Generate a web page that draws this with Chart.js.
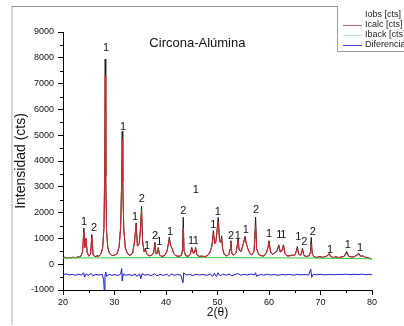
<!DOCTYPE html>
<html>
<head>
<meta charset="utf-8">
<script src="https://cdn.jsdelivr.net/npm/chart.js@4.4.1/dist/chart.umd.min.js"></script>
<style>
  html, body { margin: 0; padding: 0; background: #fff; }
  #wrap { position: relative; width: 404px; height: 326px; overflow: hidden; }
  #frame { position: absolute; left: 11px; top: 6px; width: 400px; height: 318px;
           border-left: 2px solid #d4d4d4; border-top: 1px solid #8c8c8c; }
  #c { position: absolute; left: 0; top: 0; }
</style>
</head>
<body>
<div id="wrap">
  <div id="frame"></div>
  <canvas id="c" width="404" height="326"></canvas>
</div>
<script>
// ---- data ----
const chartTitle = 'Circona-Alúmina';
const xTitle = '2(θ)';
const yTitle = 'Intensidad (cts)';
const seriesNames = ['Iobs [cts]', 'Icalc [cts]', 'Iback [cts]', 'Diferencia'];

const obsX = [20.0,20.4,20.8,21.2,21.6,22.0,22.4,22.8,23.2,23.5,23.8,24.05,24.25,24.45,24.7,25.0,25.35,25.6,25.85,26.2,26.6,27.0,27.4,27.7,27.95,28.1,28.2,28.3,28.45,28.7,29.0,29.5,30.0,30.5,30.9,31.2,31.4,31.5,31.6,31.8,32.1,32.5,33.0,33.5,33.9,34.2,34.45,34.8,35.05,35.25,35.45,35.75,36.0,36.3,36.8,37.3,37.6,37.85,38.05,38.3,38.5,38.75,39.2,39.7,40.2,40.5,40.65,40.85,41.2,41.5,41.9,42.5,43.0,43.2,43.35,43.5,43.8,44.3,44.7,45.0,45.3,45.55,45.75,46.0,46.5,47.0,47.5,48.0,48.5,48.9,49.2,49.45,49.7,49.95,50.15,50.4,50.6,50.8,51.0,51.3,51.8,52.2,52.45,52.6,52.8,53.2,53.6,54.0,54.2,54.6,55.0,55.35,55.6,55.9,56.3,56.7,57.1,57.4,57.6,58.0,58.5,59.0,59.5,59.8,60.0,60.3,60.7,61.1,61.5,61.9,62.2,62.5,62.8,63.1,63.5,64.0,64.5,64.9,65.2,65.5,65.8,66.2,66.5,66.8,67.3,67.8,68.05,68.2,68.4,68.8,69.3,69.8,70.3,70.8,71.3,71.7,72.0,72.5,73.0,73.5,74.0,74.6,75.1,75.5,76.0,76.5,76.9,77.4,77.8,78.2,78.6,79.0,79.5,80.0];
const obsY = [250,275,235,268,240,280,245,285,260,320,480,1400,650,1000,450,310,380,1150,360,290,330,310,420,640,1400,3600,7950,3400,1300,640,440,330,350,400,680,1450,3400,5150,3200,1350,640,420,340,420,900,1600,700,800,1400,2250,900,480,600,380,320,360,450,850,400,420,650,350,300,330,500,850,1050,750,620,420,330,300,340,550,1820,520,330,300,380,650,430,450,650,360,300,320,290,330,450,700,1300,800,900,1400,1820,900,850,1100,600,380,320,380,600,910,400,350,450,980,550,500,800,1080,800,600,420,360,500,1820,600,380,330,310,450,650,910,480,380,450,500,750,480,520,750,420,320,330,360,330,440,680,380,360,610,330,300,340,480,1040,400,280,260,300,270,280,330,420,300,260,290,260,280,310,490,300,290,280,340,420,310,330,280,250,230,200];

const calcX = [20.0,21.0,22.0,22.8,23.5,23.8,24.05,24.25,24.45,24.7,25.0,25.35,25.6,25.85,26.3,27.0,27.4,27.7,27.95,28.1,28.2,28.3,28.45,28.7,29.0,29.5,30.0,30.5,30.9,31.2,31.4,31.5,31.6,31.8,32.1,32.5,33.0,33.5,33.9,34.2,34.45,34.8,35.05,35.25,35.45,35.75,36.0,36.3,36.8,37.3,37.6,37.85,38.05,38.3,38.5,38.75,39.2,39.7,40.2,40.5,40.65,40.85,41.2,41.5,41.9,42.5,43.0,43.2,43.35,43.5,43.8,44.3,44.7,45.0,45.3,45.55,45.75,46.0,46.5,47.0,47.5,48.0,48.5,48.9,49.2,49.45,49.7,49.95,50.15,50.4,50.6,50.8,51.0,51.3,51.8,52.2,52.45,52.6,52.8,53.2,53.6,54.0,54.2,54.6,55.0,55.35,55.6,55.9,56.3,56.7,57.1,57.4,57.6,58.0,58.5,59.0,59.5,59.8,60.0,60.3,60.7,61.1,61.5,61.9,62.2,62.5,62.8,63.1,63.5,64.0,64.5,64.9,65.2,65.5,65.8,66.2,66.5,66.8,67.3,67.8,68.05,68.2,68.4,68.8,69.3,69.8,70.3,70.8,71.3,71.7,72.0,72.5,73.0,73.5,74.0,74.6,75.1,75.5,76.0,76.5,76.9,77.4,77.8,78.2,78.6,79.0,79.5,80.0];
const calcY = [255,255,258,265,330,470,1250,640,1000,440,320,370,1050,360,300,310,410,640,1400,3500,7300,3400,1300,640,440,340,350,400,680,1450,3300,4850,3200,1350,640,410,350,420,880,1500,700,780,1380,2100,900,480,550,380,330,350,440,780,400,410,600,350,310,330,500,820,980,740,600,410,330,310,340,540,1400,520,340,310,370,600,420,440,620,360,310,305,300,320,440,680,1200,780,880,1350,1650,880,830,1000,590,380,320,370,580,820,400,350,440,900,540,490,780,1000,780,590,410,360,490,1500,590,370,330,320,440,630,850,470,380,440,490,700,470,510,700,410,320,320,340,330,430,620,380,350,550,330,300,320,450,790,390,280,265,270,265,270,320,380,290,260,265,260,270,300,430,290,280,280,330,380,300,310,270,245,230,215];

const backX = [20, 30, 40, 50, 60, 70, 80];
const backY = [240, 250, 255, 255, 250, 235, 210];

const diffX = [20.0,20.6,21.2,21.8,22.4,23.0,23.6,24.0,24.2,24.5,24.9,25.5,25.8,26.4,27.0,27.6,27.9,28.0,28.15,28.3,28.5,28.9,29.5,30.1,30.7,31.2,31.4,31.5,31.7,32.2,32.8,33.4,34.0,34.3,34.9,35.1,35.4,35.9,36.5,37.1,37.8,38.2,38.8,39.5,40.2,40.6,41.0,41.6,42.3,42.9,43.3,43.45,43.9,44.6,45.2,45.8,46.5,47.2,47.9,48.6,49.1,49.4,49.8,50.1,50.5,51.0,51.7,52.4,52.7,53.4,54.0,54.5,55.2,55.8,56.5,57.2,57.4,57.6,58.3,59.0,59.7,60.3,61.0,61.8,62.5,63.2,64.0,64.8,65.5,66.2,67.0,67.7,68.1,68.3,68.6,69.3,70.1,70.9,71.7,72.5,73.3,74.1,74.9,75.7,76.5,77.3,78.1,78.9,79.6,80.0];
const diffY = [-400,-380,-420,-395,-430,-390,-420,-330,-500,-370,-430,-360,-450,-400,-420,-390,-600,-1000,-450,-300,-480,-390,-430,-400,-440,-380,-170,-650,-380,-430,-400,-440,-380,-470,-380,-560,-360,-430,-400,-440,-370,-450,-400,-430,-390,-470,-380,-430,-400,-430,-720,-330,-420,-400,-440,-390,-420,-400,-430,-390,-470,-350,-480,-330,-450,-390,-420,-380,-450,-400,-360,-430,-390,-420,-380,-420,-330,-470,-400,-420,-390,-420,-400,-430,-395,-415,-400,-420,-395,-415,-400,-420,-190,-510,-390,-410,-395,-415,-395,-410,-395,-405,-385,-405,-390,-405,-385,-405,-390,-410];

// phase labels above peaks (1 / 2)
const labelX = [24.08,26.02,28.35,31.65,33.98,35.28,36.31,37.86,38.70,40.78,43.36,44.85,45.77,45.77,49.18,50.04,52.62,53.92,55.48,57.48,60.0,62.0,62.78,65.69,66.85,68.49,71.84,75.28,77.67];
const labelY = [1625,1407,8379,5303,1820,2535,719,1108,848,1264,2080,914,914,2858,1524,2041,1108,1108,1330,2119,1174,1135,1135,1042,848,1236,564,746,630];
const labelText = ['1','2','1','1','1','2','1','2','1','1','2','1','1','1','1','1','2','1','1','2','1','1','1','1','2','2','1','1','1'];

const xTicks = [20, 30, 40, 50, 60, 70, 80];
const yTicks = [-1000, 0, 1000, 2000, 3000, 4000, 5000, 6000, 7000, 8000, 9000];

// ---- helpers ----
const pts = (xs, ys) => xs.map((x, i) => ({ x: x, y: ys[i] }));
const FONT = '"Liberation Sans", Arial, Helvetica, sans-serif';

const extras = {
  id: 'extras',
  afterDraw(chart) {
    const ctx = chart.ctx;
    const xs = chart.scales.x, ys = chart.scales.y;
    const area = chart.chartArea;
    ctx.save();
    // minor ticks
    ctx.strokeStyle = '#000';
    ctx.lineWidth = 1;
    ctx.beginPath();
    for (let i = 0; i < xTicks.length - 1; i++) {
      const v = (xTicks[i] + xTicks[i + 1]) / 2;
      const px = Math.round(xs.getPixelForValue(v)) + 0.5;
      ctx.moveTo(px, area.bottom); ctx.lineTo(px, area.bottom + 3);
    }
    for (let i = 0; i < yTicks.length - 1; i++) {
      const v = (yTicks[i] + yTicks[i + 1]) / 2;
      const py = Math.round(ys.getPixelForValue(v)) + 0.5;
      ctx.moveTo(area.left, py); ctx.lineTo(area.left - 3, py);
    }
    ctx.stroke();
    // peak labels
    ctx.fillStyle = '#111';
    ctx.font = '11px ' + FONT;
    ctx.textAlign = 'center';
    ctx.textBaseline = 'middle';
    for (let i = 0; i < labelX.length; i++) {
      ctx.fillText(labelText[i], xs.getPixelForValue(labelX[i]), ys.getPixelForValue(labelY[i]));
    }
    // title inside plot
    ctx.font = '13px ' + FONT;
    ctx.fillText(chartTitle, xs.getPixelForValue(46.1), ys.getPixelForValue(8570));
    // legend box
    ctx.fillStyle = '#fff';
    ctx.fillRect(338, 0, 66, 51);
    ctx.strokeStyle = '#9a9a9a';
    ctx.beginPath();
    ctx.moveTo(337.5, 6); ctx.lineTo(337.5, 51.5); ctx.lineTo(404, 51.5);
    ctx.stroke();
    const legCols = [null, '#b07070', '#b0f0b0', '#4848b8'];
    ctx.font = '9px ' + FONT;
    ctx.textAlign = 'left';
    ctx.fillStyle = '#222';
    for (let i = 0; i < seriesNames.length; i++) {
      const y = 15 + i * 10;
      if (legCols[i]) {
        ctx.strokeStyle = legCols[i];
        ctx.beginPath();
        ctx.moveTo(343, y + 0.5); ctx.lineTo(362, y + 0.5);
        ctx.stroke();
      }
      ctx.fillText(seriesNames[i], 365, y);
    }
    ctx.restore();
  }
};

new Chart(document.getElementById('c'), {
  type: 'line',
  data: {
    datasets: [
      { label: seriesNames[0], data: pts(obsX, obsY), borderColor: '#1a1a1a', borderWidth: 1, order: 3 },
      { label: seriesNames[1], data: pts(calcX, calcY), borderColor: '#d8282c', borderWidth: 1, order: 2 },
      { label: seriesNames[2], data: pts(backX, backY), borderColor: '#3cc83c', borderWidth: 1, order: 1 },
      { label: seriesNames[3], data: pts(diffX, diffY), borderColor: '#1a1ad0', borderWidth: 1, order: 0 }
    ]
  },
  options: {
    responsive: false,
    animation: false,
    events: [],
    elements: { point: { radius: 0 }, line: { tension: 0 } },
    layout: { padding: { left: 0, right: 32, top: 32, bottom: 0 } },
    plugins: { legend: { display: false }, tooltip: { enabled: false }, title: { display: false } },
    scales: {
      x: {
        type: 'linear', min: 20, max: 80,
        afterFit(s) { s.height = 36; },
        afterBuildTicks(s) { s.ticks = xTicks.map(v => ({ value: v })); },
        ticks: { color: '#111', font: { size: 9, family: FONT }, padding: 2, maxRotation: 0,
                 callback: v => String(v) },
        grid: { drawOnChartArea: false, drawTicks: true, tickLength: 5, tickColor: '#000' },
        border: { display: true, color: '#000', width: 1 },
        title: { display: true, text: xTitle, color: '#111', font: { size: 12, family: FONT }, padding: { top: 0, bottom: 6 } }
      },
      y: {
        type: 'linear', min: -1000, max: 9000,
        afterFit(s) { s.width = 63; },
        afterBuildTicks(s) { s.ticks = yTicks.map(v => ({ value: v })); },
        ticks: { color: '#111', font: { size: 9, family: FONT }, padding: 4,
                 callback: v => String(v) },
        grid: { drawOnChartArea: false, drawTicks: true, tickLength: 5, tickColor: '#000' },
        border: { display: true, color: '#000', width: 1 },
        title: { display: true, text: yTitle, color: '#111', font: { size: 14, family: FONT }, padding: { top: 13, bottom: 0 } }
      }
    }
  },
  plugins: [extras]
});
</script>
</body>
</html>
